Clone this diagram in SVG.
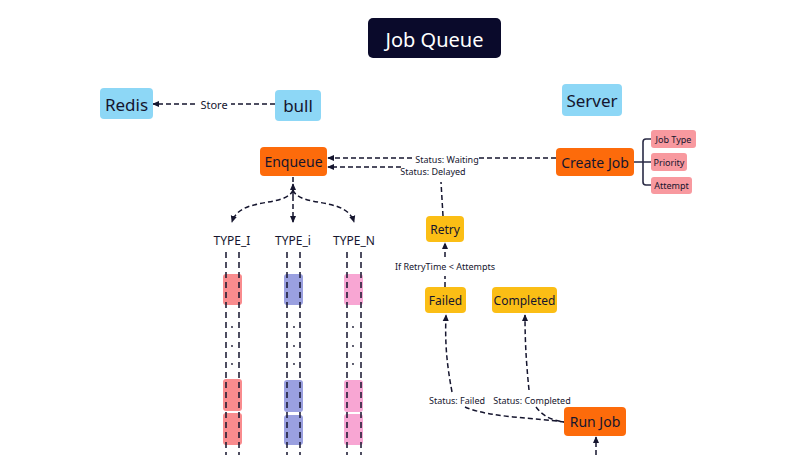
<svg xmlns="http://www.w3.org/2000/svg" width="808" height="455" viewBox="0 0 808 455">
<defs>
<marker id="ah" viewBox="0 0 8 8" refX="7" refY="4" markerWidth="7" markerHeight="7" markerUnits="userSpaceOnUse" orient="auto">
<path d="M0,0.5 L8,4 L0,7.5 Z" fill="#15152e"/>
</marker>
<style>
text{font-family:"Noto Sans","Open Sans",sans-serif;fill:#15152e;text-anchor:middle;dominant-baseline:central}
.c{fill:none;stroke:#15152e;stroke-width:1.5;stroke-dasharray:5 3}
.a{marker-end:url(#ah)}
.blue{fill:#8dd7f6}
.org{fill:#fd6b0b}
.yel{fill:#fbbe15}
.tag{fill:#f8999f}
.big{font-size:17px}
.mid{font-size:14px}
.sm{font-size:12px}
.xs{font-size:11px}
.lb{font-size:9px}
.tg{font-size:9px}
.lane{fill:none;stroke:#15152e;stroke-width:1.5;stroke-dasharray:6 4}
</style>
</defs>
<rect width="808" height="455" fill="#ffffff"/>

<g id="title">
<rect x="368" y="18" width="133" height="40" rx="5" fill="#0a0a2b"/>
<text x="434.5" y="39" style="fill:#ffffff;font-size:20px">Job Queue</text>
</g>

<g id="connectors">
<path class="c a" d="M275,104 L153,104"/>
<path class="c a" d="M556,158 L328,158"/>
<path class="c a" d="M401,167 L328,167"/>
<path class="c" d="M443,216 L441,182"/>
<path class="c" d="M293,177 L293,186"/>
<path class="c a" d="M293,196 L293,184"/>
<path class="c a" d="M293,188 L293,222"/>
<path class="c a" d="M293,190 C286,208 240,196 232,222"/>
<path class="c a" d="M293,190 C300,208 346,196 354,222"/>
<path class="c" d="M445,287 L445,276"/>
<path class="c a" d="M445,257 L445,243"/>
<path class="c a" d="M452,392 C446,360 445,340 446,315"/>
<path class="c" d="M465,407 C490,418 540,418 564,422"/>
<path class="c a" d="M529,390 C526,360 525,340 525,315"/>
<path class="c" d="M536,407 C542,415 550,420 564,422"/>
<path class="c a" d="M596,455 L596,437"/>
<path d="M634,162 L643,162 M651,139 L646,139 Q643,139 643,142 L643,182 Q643,185 646,185 L651,185 M643,162 L651,162" fill="none" stroke="#2a2b45" stroke-width="1.6"/>
</g>

<g id="labels">
<rect x="197" y="96" width="34" height="15" fill="#ffffff"/>
<text class="xs" x="214" y="104">Store</text>
<rect x="415" y="152" width="64" height="13" fill="#ffffff"/>
<text class="lb" x="447" y="159">Status: Waiting</text>
<text class="lb" x="433" y="171">Status: Delayed</text>
<text class="lb" x="445" y="266">If RetryTime &lt; Attempts</text>
<text class="lb" x="457" y="400">Status: Failed</text>
<text class="lb" x="532" y="400">Status: Completed</text>
</g>

<g id="redis"><rect class="blue" x="100" y="88" width="53" height="31" rx="4"/><text class="big" x="126.5" y="104">Redis</text></g>
<g id="bull"><rect class="blue" x="275" y="90" width="46" height="31" rx="4"/><text class="big" x="298" y="105">bull</text></g>
<g id="server"><rect class="blue" x="562" y="84" width="60" height="32" rx="4"/><text class="big" x="592" y="100">Server</text></g>

<g id="enqueue"><rect class="org" x="260" y="147" width="67" height="29" rx="4"/><text class="mid" x="293.5" y="161.5">Enqueue</text></g>
<g id="create-job"><rect class="org" x="556" y="148" width="78" height="28" rx="4"/><text class="mid" x="595" y="162">Create Job</text></g>
<g id="run-job"><rect class="org" x="564" y="407" width="62" height="29" rx="4"/><text class="mid" x="595" y="421.5">Run Job</text></g>

<g id="job-type"><rect class="tag" x="651" y="130" width="45" height="18" rx="3"/><text class="tg" x="673.5" y="139">Job Type</text></g>
<g id="priority"><rect class="tag" x="651" y="153" width="36" height="18" rx="3"/><text class="tg" x="669" y="162">Priority</text></g>
<g id="attempt"><rect class="tag" x="651" y="177" width="41" height="17" rx="3"/><text class="tg" x="671.5" y="185.5">Attempt</text></g>

<g id="retry"><rect class="yel" x="426" y="216" width="38" height="26" rx="4"/><text class="sm" x="445" y="229">Retry</text></g>
<g id="failed"><rect class="yel" x="425" y="287" width="41" height="26" rx="4"/><text class="sm" x="445.5" y="300">Failed</text></g>
<g id="completed"><rect class="yel" x="492" y="287" width="65" height="26" rx="4"/><text class="sm" x="524.5" y="300">Completed</text></g>

<g id="type-1">
<text class="sm" x="232" y="240">TYPE_I</text>
<rect x="223" y="274" width="19" height="31" rx="3" fill="#f98c8e"/>
<rect x="223" y="379" width="19" height="32" rx="3" fill="#f98c8e"/>
<rect x="223" y="413" width="19" height="32" rx="3" fill="#f98c8e"/>
<line class="lane" x1="226" y1="252" x2="226" y2="455"/>
<line class="lane" x1="239" y1="252" x2="239" y2="455"/>
<circle cx="232" cy="327" r="0.9" fill="#15152e"/><circle cx="232" cy="346" r="0.9" fill="#15152e"/><circle cx="232" cy="364" r="0.9" fill="#15152e"/>
</g>
<g id="type-i">
<text class="sm" x="293" y="240">TYPE_i</text>
<rect x="284" y="274" width="19" height="31" rx="3" fill="#9aa0e0"/>
<rect x="284" y="380" width="19" height="32" rx="3" fill="#9aa0e0"/>
<rect x="284" y="415" width="19" height="30" rx="3" fill="#9aa0e0"/>
<line class="lane" x1="287" y1="252" x2="287" y2="455"/>
<line class="lane" x1="300" y1="252" x2="300" y2="455"/>
<circle cx="294" cy="327" r="0.9" fill="#15152e"/><circle cx="294" cy="346" r="0.9" fill="#15152e"/><circle cx="294" cy="364" r="0.9" fill="#15152e"/>
</g>
<g id="type-n">
<text class="sm" x="354" y="240">TYPE_N</text>
<rect x="344" y="274" width="19" height="31" rx="3" fill="#f8a6d3"/>
<rect x="344" y="380" width="19" height="32" rx="3" fill="#f8a6d3"/>
<rect x="344" y="414" width="19" height="31" rx="3" fill="#f8a6d3"/>
<line class="lane" x1="347" y1="252" x2="347" y2="455"/>
<line class="lane" x1="361" y1="252" x2="361" y2="455"/>
<circle cx="353" cy="327" r="0.9" fill="#15152e"/><circle cx="353" cy="346" r="0.9" fill="#15152e"/><circle cx="353" cy="364" r="0.9" fill="#15152e"/>
</g>
</svg>
